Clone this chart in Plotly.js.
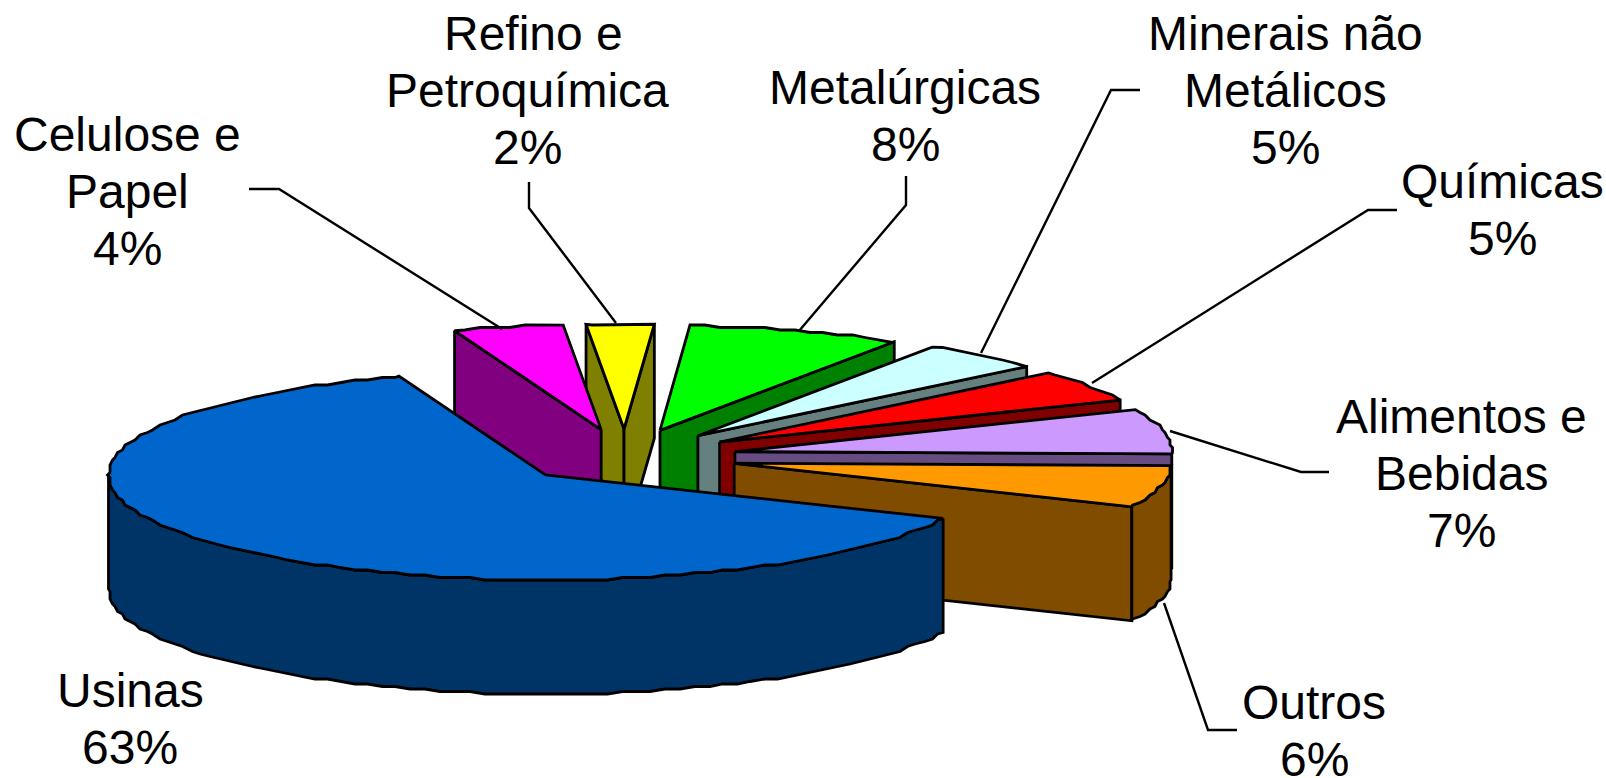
<!DOCTYPE html>
<html>
<head>
<meta charset="utf-8">
<script src="https://cdn.plot.ly/plotly-3.0.1.min.js"></script>
<style>html,body{margin:0;padding:0;background:#fff;overflow:hidden}#chart{width:1606px;height:778px}</style>
</head>
<body>
<div id="chart"></div>
<script>
// --- chart data (clockwise from the start of the first slice) ---
const categories = ["Usinas", "Celulose e Papel", "Refino e Petroquímica", "Metalúrgicas", "Minerais não Metálicos", "Químicas", "Alimentos e Bebidas", "Outros"];
const values = [62.75, 4.06, 2.49, 7.9, 4.55, 4.9, 6.9, 6.45];
const percentLabels = ["63%", "4%", "2%", "8%", "5%", "5%", "7%", "6%"];
const labelLines = [["Usinas"], ["Celulose e", "Papel"], ["Refino e", "Petroquímica"], ["Metalúrgicas"], ["Minerais não", "Metálicos"], ["Químicas"], ["Alimentos e", "Bebidas"], ["Outros"]];

// --- styling ---
const topColors = ["#0066CC", "#FF00FF", "#FFFF00", "#00FF00", "#CCFFFF", "#FF0000", "#CC99FF", "#FF9900"];
const sideColors = ["#003366", "#800080", "#808000", "#008000", "#668080", "#800000", "#664C80", "#804C00"];
const drawOrder = [2, 1, 3, 4, 5, 6, 7, 0];
const labelCenterX = [130, 127, 527, 905, 1285, 1502, 1461, 1314];
const labelFirstY = [690, 134, 33, 87, 33, 181, 416, 702];
const lineStep = 57;
const firstLineDx = [0, 0, 6, 0, 0, 0, 0, 0];
const leaderX = [null, [249, 279, 502], [529, 529, 616], [906, 906, 799], [1140, 1111, 981], [1397, 1368, 1092], [1170, 1301, 1329], [1164, 1208, 1237]];
const leaderY = [null, [189, 189, 329], [182, 208, 323], [176, 205, 331], [90, 90, 353], [210, 210, 383], [431, 472, 472], [603, 730, 730]];
const apexNudgeX = [3, 0, 0, 0, 0, 0, 0, 0];
const apexNudgeY = [-1, 0, 0, 0, 0, 0, 0, 0];
const geom = {cx: 625, cy: 457, ex: 112, ey: 28, rx: 437, ry: 105, depth: 114, start: 24.5, grid: 2.5, step: 2};

const total = values.reduce((a, b) => a + b, 0);
const rad = d => d * Math.PI / 180;
const q = v => Math.round(v / geom.grid) * geom.grid;

function arc(ax, ay, a, b) {
  const at = d => [ax + geom.rx * Math.cos(rad(d)), ay + geom.ry * Math.sin(rad(d))];
  const pts = [at(a)];
  for (let d = Math.ceil(a / geom.step + 1e-6) * geom.step; d < b - 1e-6; d += geom.step) {
    const p = at(d);
    pts.push([q(p[0]), q(p[1])]);
  }
  pts.push(at(b));
  return pts;
}
function poly(pts, fill) {
  const c = pts.concat([pts[0]]);
  return {x: c.map(p => p[0]), y: c.map(p => p[1]), type: "scatter", mode: "lines", fill: "toself",
    fillcolor: fill, line: {color: "#000", width: 2.8}, hoverinfo: "skip", showlegend: false};
}

const spans = [];
let acc = geom.start;
values.forEach(v => { const w = v / total * 360; spans.push([acc, acc + w]); acc += w; });

const traces = [];
drawOrder.forEach(i => {
  const [a, b] = spans[i];
  const m = rad((a + b) / 2);
  const ax = geom.cx + geom.ex * Math.cos(m) + apexNudgeX[i], ay = geom.cy + geom.ey * Math.sin(m) + apexNudgeY[i];
  const d = geom.depth;
  const edge = t => [ax + geom.rx * Math.cos(rad(t)), ay + geom.ry * Math.sin(rad(t))];
  const drop = p => [p[0], p[1] + d];
  // radial cut faces that turn towards the viewer
  if (Math.sin(rad(a - 90)) > 0) { const e = edge(a); traces.push(poly([[ax, ay], e, drop(e), [ax, ay + d]], sideColors[i])); }
  if (Math.sin(rad(b + 90)) > 0) { const e = edge(b); traces.push(poly([[ax, ay], e, drop(e), [ax, ay + d]], sideColors[i])); }
  // outer wall: the part of the rim on the near side
  [[0, 180], [360, 540]].forEach(([lo, hi]) => {
    const s = Math.max(a, lo), t = Math.min(b, hi);
    if (t - s > 2) {
      const rim = arc(ax, ay, s, t);
      traces.push(poly(rim.concat(rim.slice().reverse().map(drop)), sideColors[i]));
    }
  });
  // top face
  traces.push(poly([[ax, ay]].concat(arc(ax, ay, a, b)), topColors[i]));
});

// leader lines
categories.forEach((c, i) => {
  if (!leaderX[i]) return;
  traces.push({x: leaderX[i], y: leaderY[i], type: "scatter", mode: "lines", line: {color: "#000", width: 2.4},
    hoverinfo: "skip", showlegend: false});
});

// labels
const annotations = [];
categories.forEach((c, i) => {
  labelLines[i].concat([percentLabels[i]]).forEach((t, k) => {
    annotations.push({x: labelCenterX[i] + (k === 0 ? firstLineDx[i] : 0), y: labelFirstY[i] + k * lineStep, xref: "x", yref: "y", text: t,
      showarrow: false, xanchor: "center", yanchor: "middle",
      font: {family: "Liberation Sans, Arial, sans-serif", size: 48, color: "#000"}});
  });
});

Plotly.newPlot("chart", traces, {
  width: 1606, height: 778, margin: {l: 0, r: 0, t: 0, b: 0, pad: 0},
  paper_bgcolor: "#fff", plot_bgcolor: "#fff", showlegend: false,
  xaxis: {range: [0, 1606], visible: false, fixedrange: true},
  yaxis: {range: [778, 0], visible: false, fixedrange: true},
  annotations
}, {staticPlot: true, displayModeBar: false});
</script>
</body>
</html>
